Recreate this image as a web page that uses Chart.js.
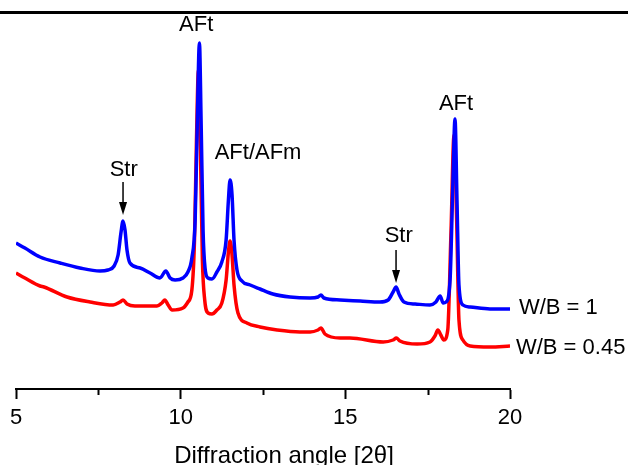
<!DOCTYPE html>
<html lang="en">
<head>
    <meta charset="UTF-8">
    <title>XRD W/B</title>
    <script src="https://cdn.jsdelivr.net/npm/chart.js@4.4.1/dist/chart.umd.min.js"></script>
    <style>
        html, body { margin: 0; padding: 0; background: #fff; }
        #wrap { width: 628px; height: 465px; }
    </style>
</head>
<body>
    <div id="wrap"><canvas id="xrd" width="628" height="465"></canvas></div>

    <script>
        // 2theta / intensity (arbitrary units)
        const angleWB1 = [5.0, 5.27, 5.73, 6.34, 6.94, 7.55, 7.79, 7.98, 8.10, 8.19, 8.25, 8.31, 8.37, 8.46, 8.77, 9.07, 9.37, 9.55, 9.68, 9.83,
            10.07, 10.22, 10.34, 10.44, 10.50, 10.57, 10.62, 10.68, 10.74, 10.83, 10.95, 11.10, 11.25, 11.38, 11.45, 11.50, 11.56, 11.62, 11.71, 11.86,
            12.11, 12.41, 12.80, 13.32, 13.93, 14.17, 14.26, 14.35, 14.84, 15.45, 16.05, 16.30, 16.45, 16.54, 16.63, 16.78, 17.12, 17.57, 17.75, 17.88,
            17.97, 18.06, 18.18, 18.26, 18.33, 18.39, 18.45, 18.57, 18.79, 19.39, 20.0];
        const intWB1 = [146, 141, 132, 126, 121, 118, 119, 123, 134, 157, 168, 159, 139, 126, 121, 116, 111, 118, 111, 109,
            111, 117, 131, 169, 259, 346, 269, 159, 121, 111, 110, 117, 127, 149, 189, 209, 194, 149, 119, 108,
            104, 100, 95, 92, 91, 92, 94, 91, 89, 88, 87, 89, 97, 102, 95, 87, 85, 84, 87, 93,
            86, 87, 109, 199, 270, 189, 104, 84, 82, 80, 80];

        const angleWB045 = [5.0, 5.27, 5.73, 5.85, 6.55, 7.25, 7.95, 8.16, 8.25, 8.37, 8.61, 9.28, 9.43, 9.52, 9.62, 9.74, 10.07, 10.22, 10.34, 10.42,
            10.48, 10.54, 10.60, 10.66, 10.73, 10.83, 10.95, 11.10, 11.25, 11.38, 11.45, 11.50, 11.56, 11.62, 11.74, 12.01, 12.41, 12.93, 13.62, 13.93,
            14.17, 14.26, 14.38, 14.84, 15.14, 16.15, 16.45, 16.55, 16.66, 17.18, 17.57, 17.72, 17.81, 17.90, 17.99, 18.11, 18.21, 18.30, 18.38, 18.45,
            18.57, 18.79, 19.39, 20.0];
        const intWB045 = [116, 111, 103, 102, 92, 87, 84, 87, 89, 85, 83, 83, 86, 89, 84, 79, 81, 87, 99, 149,
            249, 319, 239, 129, 89, 76, 75, 79, 86, 109, 137, 148, 134, 104, 76, 66, 62, 59, 57, 57,
            59, 61, 55, 51, 51, 47, 49, 51, 48, 45, 47, 53, 59, 54, 49, 59, 159, 254, 169, 69,
            49, 43, 42, 43];

        const xTicks = [5, 10, 15, 20];
        const xMinorTicks = [7.5, 12.5, 17.5];

        // peak labels: text, 2theta, intensity
        const peakText = ['AFt', 'AFt/AFm', 'Str', 'Str', 'AFt'];
        const peakX = [10.47, 12.35, 8.27, 16.62, 18.36];
        const peakY = [364, 236, 219, 153, 285];
        // arrows: 2theta, from / to intensity
        const arrowX = [8.25, 16.54];
        const arrowFrom = [207, 139];
        const arrowTo = [174, 106];
        // series names at the line ends
        const seriesText = ['W/B = 1', 'W/B = 0.45'];
        const seriesX = [20.27, 20.18];
        const seriesY = [81, 41];

        const FONT = '"Liberation Sans", Arial, sans-serif';

        const toPts = (xs, ys) => xs.map((x, i) => ({ x: x, y: ys[i] }));

        const extras = {
            id: 'extras',
            afterDraw(chart) {
                const ctx = chart.ctx;
                const xs = chart.scales.x, ys = chart.scales.y;
                ctx.save();
                // top frame line
                ctx.fillStyle = '#000';
                ctx.fillRect(0, 11, chart.width, 3);

                // minor ticks
                ctx.strokeStyle = '#000';
                ctx.lineWidth = 2;
                const yb = chart.chartArea.bottom;
                xMinorTicks.forEach(v => {
                    const px = Math.round(xs.getPixelForValue(v)) + 0.5;
                    ctx.beginPath();
                    ctx.moveTo(px, yb);
                    ctx.lineTo(px, yb + 6);
                    ctx.stroke();
                });

                ctx.fillStyle = '#000';
                ctx.font = '22px ' + FONT;
                ctx.textBaseline = 'middle';
                ctx.textAlign = 'center';
                peakText.forEach((t, i) => {
                    ctx.fillText(t, xs.getPixelForValue(peakX[i]), ys.getPixelForValue(peakY[i]));
                });
                ctx.textAlign = 'left';
                seriesText.forEach((t, i) => {
                    ctx.fillText(t, xs.getPixelForValue(seriesX[i]), ys.getPixelForValue(seriesY[i]));
                });

                // arrows
                ctx.lineWidth = 1.5;
                arrowX.forEach((v, i) => {
                    const px = xs.getPixelForValue(v);
                    const y0 = ys.getPixelForValue(arrowFrom[i]);
                    const y1 = ys.getPixelForValue(arrowTo[i]);
                    ctx.beginPath();
                    ctx.moveTo(px, y0);
                    ctx.lineTo(px, y1 - 10);
                    ctx.stroke();
                    ctx.beginPath();
                    ctx.moveTo(px - 4, y1 - 13);
                    ctx.lineTo(px + 4, y1 - 13);
                    ctx.lineTo(px, y1);
                    ctx.closePath();
                    ctx.fill();
                });

                // axis title
                ctx.font = '24px ' + FONT;
                ctx.textAlign = 'center';
                ctx.textBaseline = 'alphabetic';
                ctx.fillText('Diffraction angle [2\u03b8]', chart.chartArea.left + 268, 463);
                ctx.restore();
            }
        };

        new Chart(document.getElementById('xrd'), {
            type: 'line',
            data: {
                datasets: [
                    {
                        label: 'W/B = 1',
                        data: toPts(angleWB1, intWB1),
                        borderColor: '#0000ff',
                        borderWidth: 3.5,
                        pointRadius: 0,
                        cubicInterpolationMode: 'monotone',
                        order: 0
                    },
                    {
                        label: 'W/B = 0.45',
                        data: toPts(angleWB045, intWB045),
                        borderColor: '#ff0000',
                        borderWidth: 3.5,
                        pointRadius: 0,
                        cubicInterpolationMode: 'monotone',
                        order: 1
                    }
                ]
            },
            options: {
                responsive: false,
                animation: false,
                layout: { padding: { left: 16, right: 118, top: 12, bottom: 0 } },
                plugins: { legend: { display: false }, tooltip: { enabled: false } },
                scales: {
                    x: {
                        type: 'linear',
                        min: 5,
                        max: 20,
                        afterFit: s => { s.height = 76; },
                        afterBuildTicks: s => { s.ticks = xTicks.map(v => ({ value: v })); },
                        grid: { drawOnChartArea: false, tickLength: 10, tickWidth: 2, tickColor: '#000' },
                        border: { color: '#000', width: 2 },
                        ticks: { color: '#000', padding: 6, maxRotation: 0, font: { family: FONT, size: 22 } }
                    },
                    y: {
                        display: false,
                        min: 0,
                        max: 377
                    }
                }
            },
            plugins: [extras]
        });
    </script>
</body>
</html>
